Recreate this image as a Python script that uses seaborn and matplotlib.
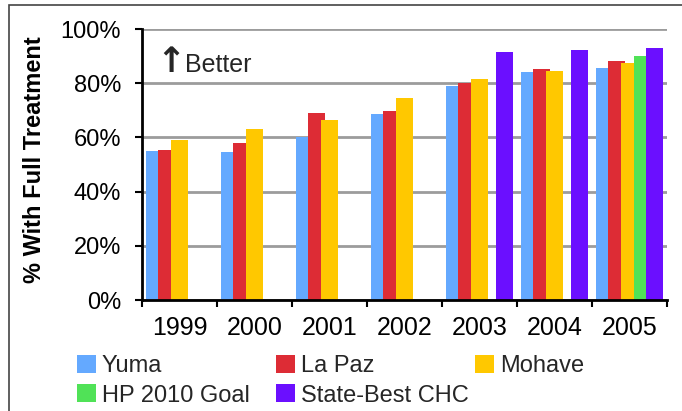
import numpy as np
import pandas as pd
import matplotlib
matplotlib.use('Agg')
import matplotlib.pyplot as plt
from matplotlib.patches import Patch, Rectangle
from matplotlib.ticker import PercentFormatter, FixedLocator
import seaborn as sns

# 데이터
years = ['1999', '2000', '2001', '2002', '2003', '2004', '2005']
series_names = ['Yuma', 'La Paz', 'Mohave', 'HP 2010 Goal', 'State-Best CHC']
yuma = [55.0, 54.6, 60.1, 68.6, 79.0, 84.1, 85.6]
la_paz = [55.4, 57.9, 69.0, 69.7, 80.1, 85.2, 88.2]
mohave = [59.0, 63.1, 66.4, 74.5, 81.5, 84.5, 87.5]
hp_goal = [np.nan, np.nan, np.nan, np.nan, np.nan, np.nan, 90.0]
state_best = [np.nan, np.nan, np.nan, np.nan, 91.5, 92.3, 93.0]
colors = ['#64A9FF', '#DD2C35', '#FFC800', '#50E257', '#6B0FFF']

values = [yuma, la_paz, mohave, hp_goal, state_best]
df = pd.DataFrame({
    'year': np.repeat([years], len(series_names), axis=0).ravel(),
    'series': np.repeat(series_names, len(years)),
    'value': np.concatenate(values),
}).dropna()

sns.set_theme(style='white')
plt.rcParams['font.family'] = ['Liberation Sans', 'DejaVu Sans']

fig = plt.figure(figsize=(6.82, 4.11), dpi=100)
ax = fig.add_axes([142 / 682, 111 / 411, 525 / 682, 271 / 411])

sns.barplot(data=df, x='year', y='value', hue='series', order=years,
            hue_order=series_names, palette=colors, saturation=1,
            width=0.836, errorbar=None, legend=False, ax=ax)

# 엑셀처럼 막대가 살짝 겹치게
bar_w = 0.227
for cont in ax.containers:
    for bar in cont:
        c = bar.get_x() + bar.get_width() / 2
        bar.set_width(bar_w)
        bar.set_x(c - bar_w / 2)
        bar.set_linewidth(0)

ax.set_xlim(-0.5, 6.5)
ax.set_ylim(0, 100)
ax.set_yticks([0, 20, 40, 60, 80, 100])
ax.yaxis.set_major_formatter(PercentFormatter(decimals=0))
ax.yaxis.grid(True, color='#9c9c9c', linewidth=2)
ax.set_axisbelow(True)

sns.despine(ax=ax)
for s in ['left', 'bottom']:
    ax.spines[s].set_color('black')
    ax.spines[s].set_linewidth(2)

ax.tick_params(axis='y', left=True, direction='out', length=5, width=1.5,
               color='black', pad=10, labelsize=17, labelcolor='black')
ax.xaxis.set_minor_locator(FixedLocator(np.arange(-0.5, 7, 1)))
ax.tick_params(axis='x', which='major', length=0, pad=11.5, labelsize=18,
               labelcolor='black')
ax.tick_params(axis='x', which='minor', bottom=True, direction='out',
               length=5, width=1.5, color='black')
ax.set_xlabel('')
ax.set_ylabel('% With Full Treatment', fontsize=17, fontweight='bold',
              color='black')
ax.yaxis.set_label_coords(-0.183, 0.517)

ax.text(-0.31, 84.2, '\u2191', fontsize=25, fontweight='bold',
        family=['DejaVu Sans'], ha='left', va='baseline')
ax.text(0.068, 84.2, 'Better', fontsize=18, ha='left', va='baseline')

# 범례 (열마다 따로)
handles = [Patch(facecolor=c, edgecolor='none') for c in colors]
cols = [([0, 3], 77), ([1, 4], 276), ([2], 475)]
for idx, xpx in cols:
    fig.legend([handles[i] for i in idx], [series_names[i] for i in idx],
               loc='upper left', bbox_to_anchor=(xpx / 682, 1 - 355 / 411),
               frameon=False, fontsize=17, borderpad=0, borderaxespad=0,
               handlelength=0.8, handleheight=0.8, handletextpad=0.25,
               labelspacing=0.3)

# 바깥 테두리
fig.add_artist(Rectangle((8.5 / 682, -0.5), 2, 1.5 - 5.5 / 411,
                         transform=fig.transFigure, fill=False,
                         edgecolor='#444444', linewidth=1.2))

fig.savefig('out.png', dpi=100)
